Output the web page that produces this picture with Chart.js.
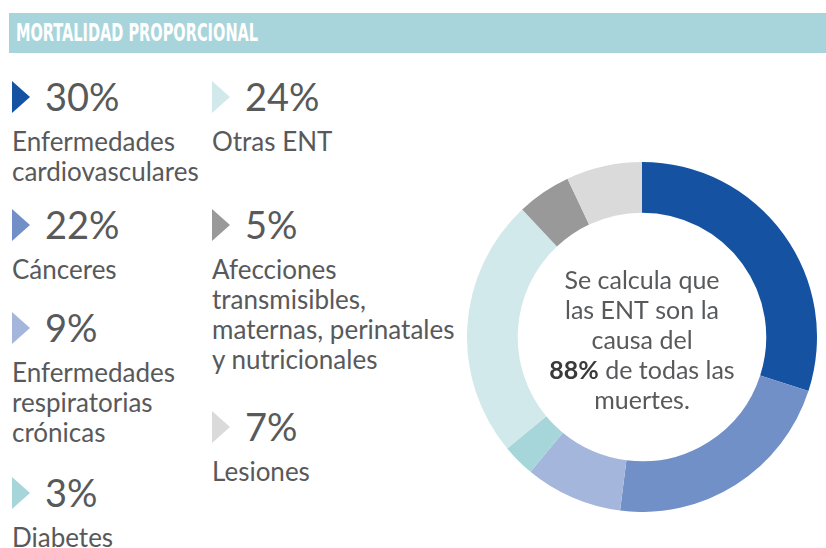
<!DOCTYPE html>
<html>
<head>
<meta charset="utf-8">
<script src="https://cdn.jsdelivr.net/npm/chart.js@4"></script>
<style>
    html, body { margin: 0; padding: 0; background: #fff; }
    body { width: 826px; height: 548px; position: relative; overflow: hidden; font-family: Lato, "Open Sans", sans-serif; color: #58595b; }
    #header { position: absolute; left: 9px; top: 13px; width: 817px; height: 40px; background: #a8d5db; }
    #header span { position: absolute; left: 7px; top: 5px; font: bold 25px "DejaVu Sans Condensed", "Open Sans", sans-serif; color: #fff; white-space: nowrap; transform-origin: 0 0; }
    .item { position: absolute; }
    .tri { position: absolute; width: 0; height: 0; border-top: 16px solid transparent; border-bottom: 16px solid transparent; border-left: 18px solid; }
    .pct { position: absolute; font-size: 38px; line-height: 40px; white-space: nowrap; }
    .lbl { position: absolute; font-size: 26px; line-height: 30px; white-space: nowrap; }
    #chartBox { position: absolute; left: 467px; top: 162px; width: 350px; height: 350px; }
</style>
</head>
<body>
<div id="header"><span id="title">MORTALIDAD PROPORCIONAL</span></div>
<div id="legend"></div>
<div id="chartBox"><canvas id="mortalityChart"></canvas></div>
<script>
const categories = [
    "Enfermedades cardiovasculares",
    "Cánceres",
    "Enfermedades respiratorias crónicas",
    "Diabetes",
    "Otras ENT",
    "Afecciones transmisibles, maternas, perinatales y nutricionales",
    "Lesiones"
];
const labelLines = [
    ["Enfermedades", "cardiovasculares"],
    ["Cánceres"],
    ["Enfermedades", "respiratorias", "crónicas"],
    ["Diabetes"],
    ["Otras ENT"],
    ["Afecciones", "transmisibles,", "maternas, perinatales", "y nutricionales"],
    ["Lesiones"]
];
const percentages = [30, 22, 9, 3, 24, 5, 7];
const sliceColors = ["#1553a2", "#7290c8", "#a4b6dc", "#a6d6d9", "#d2e9ec", "#999999", "#dadada"];
const centerLines = ["Se calcula que", "las ENT son la", "causa del", "88% de todas las", "muertes."];

// legend placement (x of column, y centre of the percentage row)
const legendPos = [
    [12, 97], [12, 225], [12, 328], [12, 493],
    [212, 97], [212, 225], [212, 427]
];

// squeeze the header text to the condensed width of the original
const title = document.getElementById("title");
title.style.transform = "scaleX(" + (242 / title.offsetWidth) + ")";

const legend = document.getElementById("legend");
categories.forEach((cat, i) => {
    const [x, y] = legendPos[i];
    const item = document.createElement("div");
    item.className = "item";
    item.style.left = x + "px";
    item.style.top = y + "px";
    item.innerHTML =
        '<div class="tri" style="left:0;top:-16px;border-left-color:' + sliceColors[i] + '"></div>' +
        '<div class="pct" style="left:33px;top:-21px">' + percentages[i] + '%</div>' +
        '<div class="lbl" style="left:0;top:29px">' + labelLines[i].join("<br>") + '</div>';
    legend.appendChild(item);
});

const centerText = {
    id: "centerText",
    afterDraw(chart) {
        const ctx = chart.ctx;
        const meta = chart.getDatasetMeta(0).data[0];
        const cx = meta.x, cy = meta.y;
        ctx.save();
        ctx.textBaseline = "middle";
        const regular = "25px Lato, 'Open Sans', sans-serif";
        const bold = "bold 25px Lato, 'Open Sans', sans-serif";
        centerLines.forEach((line, i) => {
            const y = cy + 4 + (i - 2) * 30;
            if (line.startsWith("88%")) {
                const a = "88%", b = line.slice(3);
                ctx.font = bold;
                const wa = ctx.measureText(a).width;
                ctx.font = regular;
                const wb = ctx.measureText(b).width;
                let x = cx - (wa + wb) / 2;
                ctx.textAlign = "left";
                ctx.font = bold;
                ctx.fillStyle = "#3a3a3a";
                ctx.fillText(a, x, y);
                ctx.font = regular;
                ctx.fillStyle = "#58595b";
                ctx.fillText(b, x + wa, y);
            } else {
                ctx.font = regular;
                ctx.textAlign = "center";
                ctx.fillStyle = "#58595b";
                ctx.fillText(line, cx, y);
            }
        });
        ctx.restore();
    }
};

new Chart(document.getElementById("mortalityChart"), {
    type: "doughnut",
    data: {
        labels: categories,
        datasets: [{
            data: percentages,
            backgroundColor: sliceColors,
            borderWidth: 0
        }]
    },
    options: {
        responsive: true,
        maintainAspectRatio: false,
        animation: false,
        cutout: "71%",
        layout: { padding: 0 },
        plugins: {
            legend: { display: false },
            tooltip: { enabled: false }
        }
    },
    plugins: [centerText]
});
</script>
</body>
</html>
